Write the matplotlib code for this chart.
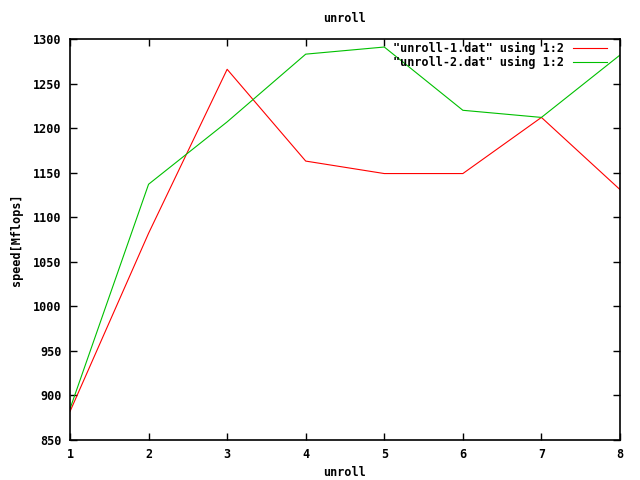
import matplotlib
matplotlib.use("Agg")
import matplotlib.pyplot as plt

unroll = [1, 2, 3, 4, 5, 6, 7, 8]
speed_unroll1 = [882, 1082, 1266, 1163, 1149, 1149, 1212, 1131]
speed_unroll2 = [885, 1137, 1207, 1283, 1291, 1220, 1212, 1282]
labels = ['"unroll-1.dat" using 1:2', '"unroll-2.dat" using 1:2']
yticks = [850, 900, 950, 1000, 1050, 1100, 1150, 1200, 1250, 1300]

plt.rcParams["font.family"] = "DejaVu Sans Mono"
plt.rcParams["font.weight"] = "bold"
plt.rcParams["font.size"] = 8.5

fig = plt.figure(figsize=(6.4, 4.8), dpi=100)
ax = fig.add_axes([70 / 640, 40 / 480, 550 / 640, 401 / 480])

ax.plot(unroll, speed_unroll1, color="#ff0000", lw=0.8, label=labels[0])
ax.plot(unroll, speed_unroll2, color="#00c000", lw=0.8, label=labels[1])

ax.set_xlim(1, 8)
ax.set_ylim(850, 1300)
ax.set_xticks(unroll)
ax.set_yticks(yticks)
ax.tick_params(direction="in", top=True, right=True, length=5, width=1, pad=6)
for s in ax.spines.values():
    s.set_linewidth(1.2)

ax.set_title("unroll", fontsize=8.5, fontweight="bold", pad=12)
ax.set_xlabel("unroll", fontweight="bold", labelpad=3)
ax.set_ylabel("speed[Mflops]", fontweight="bold", labelpad=7)

ax.legend(loc="upper right", bbox_to_anchor=(1 - 6 / 550, 1 + 4 / 401),
          frameon=False, markerfirst=False, handlelength=2.9,
          handletextpad=0.7, labelspacing=0.08, borderaxespad=0.2,
          prop={"family": "DejaVu Sans Mono", "weight": "bold", "size": 8.5})

fig.savefig("out.png", dpi=100)
